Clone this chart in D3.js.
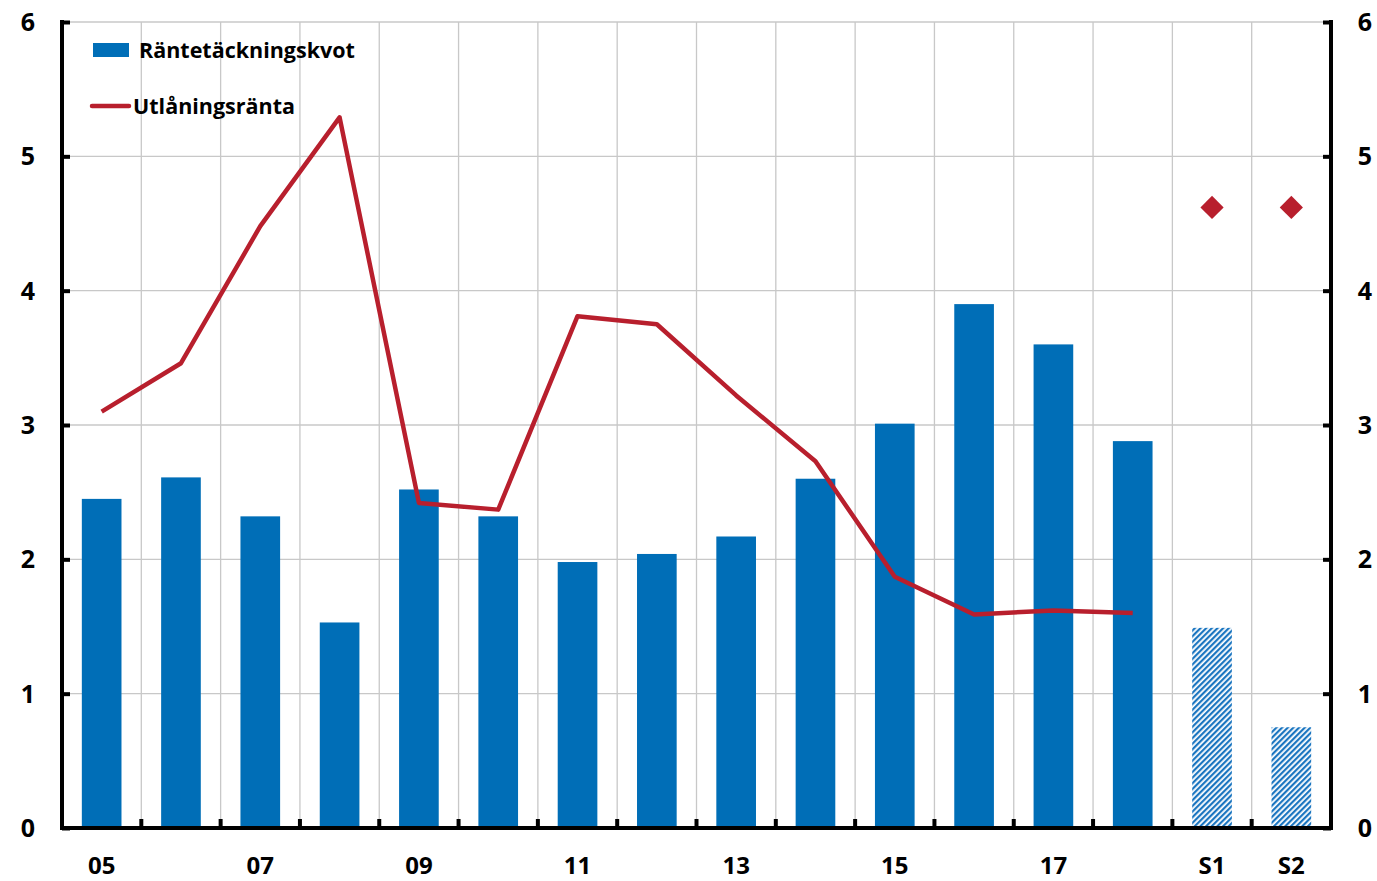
<!DOCTYPE html>
<html>
<head>
<meta charset="utf-8">
<script src="https://cdn.jsdelivr.net/npm/d3@7"></script>
<style>
  body { margin: 0; background: #fff; }
  text { font-family: "Open Sans", "Noto Sans", sans-serif; font-weight: bold; fill: #000; }
</style>
</head>
<body>
<svg id="chart" width="1377" height="881"></svg>
<script>
var categories = ["05", "06", "07", "08", "09", "10", "11", "12", "13", "14", "15", "16", "17", "18", "S1", "S2"];
var tickLabels = ["05", "07", "09", "11", "13", "15", "17", "S1", "S2"];
var coverage = [2.45, 2.61, 2.32, 1.53, 2.52, 2.32, 1.98, 2.04, 2.17, 2.60, 3.01, 3.90, 3.60, 2.88, 1.49, 0.75];
var lendingRate = [3.10, 3.46, 4.48, 5.29, 2.42, 2.37, 3.81, 3.75, 3.22, 2.73, 1.87, 1.59, 1.62, 1.60, null, null];
var scenarioRate = [null, null, null, null, null, null, null, null, null, null, null, null, null, null, 4.62, 4.62];
var yTicks = [0, 1, 2, 3, 4, 5, 6];

var svg = d3.select("#chart");
var plotL = 62, plotR = 1331, plotT = 22, plotB = 828;

var x = d3.scaleBand().domain(categories).range([plotL, plotR]).paddingInner(0.5).paddingOuter(0.25);
var y = d3.scaleLinear().domain([0, 6]).range([plotB, plotT]);
var step = x.step();

// hatch pattern for scenario bars
var defs = svg.append("defs");
var pat = defs.append("pattern").attr("id", "hatch").attr("patternUnits", "userSpaceOnUse")
  .attr("width", 4).attr("height", 4).attr("patternTransform", "rotate(45)");
pat.append("rect").attr("width", 4).attr("height", 4).attr("fill", "#fff");
pat.append("rect").attr("width", 2.2).attr("height", 4).attr("fill", "#1a75c0");

// grid
svg.append("g").selectAll("line").data(yTicks.slice(1)).join("line")
  .attr("x1", plotL).attr("x2", plotR).attr("y1", d => y(d)).attr("y2", d => y(d))
  .attr("stroke", "#c8c8c8").attr("stroke-width", 1.3);
var bounds = d3.range(1, categories.length);
svg.append("g").selectAll("line").data(bounds).join("line")
  .attr("x1", d => plotL + step * d).attr("x2", d => plotL + step * d)
  .attr("y1", plotT).attr("y2", plotB)
  .attr("stroke", "#c8c8c8").attr("stroke-width", 1.3);

// bars
svg.append("g").selectAll("rect").data(coverage).join("rect")
  .attr("x", (d, i) => x(categories[i]))
  .attr("width", x.bandwidth())
  .attr("y", d => y(d))
  .attr("height", d => plotB - y(d))
  .attr("fill", (d, i) => categories[i][0] === "S" ? "url(#hatch)" : "#006eb7");

// line
var line = d3.line()
  .defined(d => d != null)
  .x((d, i) => x(categories[i]) + x.bandwidth() / 2)
  .y(d => y(d));
svg.append("path").datum(lendingRate).attr("d", line)
  .attr("fill", "none").attr("stroke", "#b81f2d").attr("stroke-width", 4.5).attr("stroke-linejoin", "round");

// diamonds
svg.append("g").selectAll("path").data(scenarioRate.map((d, i) => [d, i]).filter(p => p[0] != null)).join("path")
  .attr("d", d3.symbol(d3.symbolSquare, 270))
  .attr("transform", p => "translate(" + (x(categories[p[1]]) + x.bandwidth() / 2) + "," + y(p[0]) + ") rotate(45)")
  .attr("fill", "#b81f2d");

// axes
var yl = svg.append("g").attr("transform", "translate(" + plotL + ",0)")
  .call(d3.axisRight(y).tickValues(yTicks).tickSize(8).tickFormat(""));
var yr = svg.append("g").attr("transform", "translate(" + plotR + ",0)")
  .call(d3.axisLeft(y).tickValues(yTicks).tickSize(8).tickFormat(""));
[yl, yr].forEach(g => {
  g.select(".domain").remove();
  g.selectAll(".tick line").attr("stroke", "#000").attr("stroke-width", 4);
});
svg.append("line").attr("x1", plotL).attr("x2", plotL).attr("y1", plotT - 2).attr("y2", plotB + 2)
  .attr("stroke", "#000").attr("stroke-width", 4);
svg.append("line").attr("x1", plotR).attr("x2", plotR).attr("y1", plotT - 2).attr("y2", plotB + 2)
  .attr("stroke", "#000").attr("stroke-width", 4);
svg.append("line").attr("x1", plotL - 2).attr("x2", plotR + 2).attr("y1", plotB).attr("y2", plotB)
  .attr("stroke", "#000").attr("stroke-width", 4);
svg.append("g").selectAll("line").data(bounds).join("line")
  .attr("x1", d => plotL + step * d).attr("x2", d => plotL + step * d)
  .attr("y1", plotB).attr("y2", plotB - 9)
  .attr("stroke", "#000").attr("stroke-width", 4);

// tick labels
svg.append("g").selectAll("text").data(yTicks).join("text")
  .attr("x", 28).attr("y", d => y(d) + 9).attr("text-anchor", "middle")
  .attr("font-size", 25).text(d => d);
svg.append("g").selectAll("text").data(yTicks).join("text")
  .attr("x", 1365).attr("y", d => y(d) + 9).attr("text-anchor", "middle")
  .attr("font-size", 25).text(d => d);
svg.append("g").selectAll("text").data(tickLabels).join("text")
  .attr("x", d => x(d) + x.bandwidth() / 2).attr("y", 874).attr("text-anchor", "middle")
  .attr("font-size", 24).text(d => d);

// legend
svg.append("rect").attr("x", 93).attr("y", 43).attr("width", 36).attr("height", 14).attr("fill", "#006eb7");
svg.append("text").attr("x", 139).attr("y", 58).attr("font-size", 21.5).text("Räntetäckningskvot");
svg.append("line").attr("x1", 92).attr("x2", 129).attr("y1", 106).attr("y2", 106)
  .attr("stroke", "#b81f2d").attr("stroke-width", 4.5).attr("stroke-linecap", "round");
svg.append("text").attr("x", 133).attr("y", 114).attr("font-size", 21.5).text("Utlåningsränta");
</script>
</body>
</html>
